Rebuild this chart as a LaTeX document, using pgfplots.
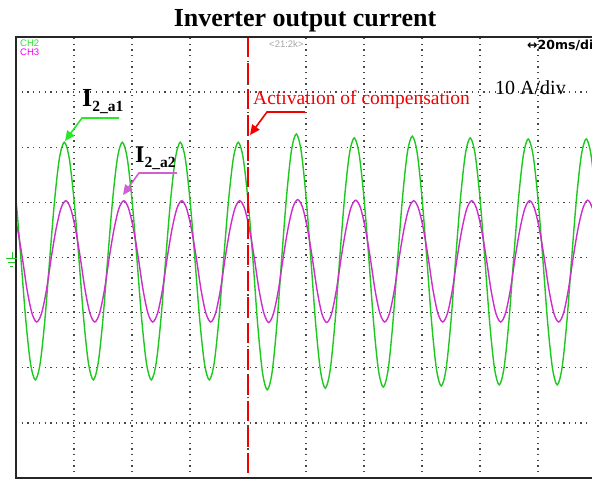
\documentclass[border=0pt]{standalone}
\usepackage{pgfplots}
\pgfplotsset{compat=1.18}
\usepackage{fontspec}
\setmainfont{Liberation Serif}
\newfontfamily\scopefont{Liberation Sans}
\newfontfamily\symfont{DejaVu Sans}
\usetikzlibrary{arrows.meta}

\definecolor{traceA}{RGB}{30,200,30}
\definecolor{traceB}{RGB}{205,45,205}
\definecolor{arrowA}{RGB}{40,230,40}
\definecolor{arrowB}{RGB}{210,95,210}
\definecolor{actred}{RGB}{240,0,0}

\begin{document}
\begin{tikzpicture}
% scope screen: 10 x 8 divisions, 12 samples per 20 ms division, y in divisions (10 A/div)
\begin{axis}[
  at={(16bp,-478bp)}, anchor=south west,
  scale only axis, width=576bp, height=441bp,
  xmin=0, xmax=119.2, ymin=-4, ymax=4,
  xtick={0,12,...,120}, ytick={-4,-3,...,4},
  xticklabels={}, yticklabels={},
  major tick length=0pt,
  grid=major,
  major grid style={draw=black!72, line width=1.3bp, dash pattern=on 1.3bp off 4.4bp},
  axis line style={draw=none},
  clip=true,
]
% I_2_a1
\addplot[traceA, line width=1.4bp, smooth, tension=0.5] coordinates {
(-1,1.81)
(0,1.05)(1,0)(2,-1.11)(3,-1.92)(4,-2.22)(5,-1.92)(6,-1.11)(7,0)(8,1.05)(9,1.81)(10,2.09)(11,1.81)
(12,1.05)(13,0)(14,-1.11)(15,-1.92)(16,-2.22)(17,-1.92)(18,-1.11)(19,0)(20,1.05)(21,1.81)(22,2.09)(23,1.81)
(24,1.05)(25,0)(26,-1.11)(27,-1.92)(28,-2.22)(29,-1.92)(30,-1.11)(31,0)(32,1.05)(33,1.81)(34,2.09)(35,1.81)
(36,1.05)(37,0)(38,-1.11)(39,-1.92)(40,-2.22)(41,-1.92)(42,-1.11)(43,0)(44,1.05)(45,1.81)(46,2.09)(47,1.81)
(48,1.05)(49,0)(50,-1.20)(51,-2.08)(52,-2.40)(53,-2.08)(54,-1.20)(55,0)(56,1.12)(57,1.94)(58,2.24)(59,1.94)
(60,1.12)(61,0)(62,-1.19)(63,-2.05)(64,-2.37)(65,-2.05)(66,-1.19)(67,0)(68,1.09)(69,1.88)(70,2.17)(71,1.88)
(72,1.09)(73,0)(74,-1.18)(75,-2.04)(76,-2.35)(77,-2.04)(78,-1.18)(79,0)(80,1.10)(81,1.91)(82,2.20)(83,1.91)
(84,1.10)(85,0)(86,-1.17)(87,-2.02)(88,-2.33)(89,-2.02)(90,-1.17)(91,0)(92,1.09)(93,1.88)(94,2.17)(95,1.88)
(96,1.09)(97,0)(98,-1.16)(99,-2.00)(100,-2.31)(101,-2.00)(102,-1.16)(103,0)(104,1.08)(105,1.86)(106,2.15)(107,1.86)
(108,1.08)(109,0)(110,-1.16)(111,-2.00)(112,-2.31)(113,-2.00)(114,-1.16)(115,0)(116,1.08)(117,1.86)(118,2.15)(119,1.86)
(120,1.08)
};
% I_2_a2
\addplot[traceB, line width=1.4bp, smooth, tension=0.5] coordinates {
(-0.7,0.89)
(0.3,0.52)(1.3,0)(2.3,-0.59)(3.3,-1.01)(4.3,-1.17)(5.3,-1.01)(6.3,-0.59)(7.3,0)(8.3,0.52)(9.3,0.89)(10.3,1.03)(11.3,0.89)
(12.3,0.52)(13.3,0)(14.3,-0.59)(15.3,-1.01)(16.3,-1.17)(17.3,-1.01)(18.3,-0.59)(19.3,0)(20.3,0.52)(21.3,0.89)(22.3,1.03)(23.3,0.89)
(24.3,0.52)(25.3,0)(26.3,-0.59)(27.3,-1.01)(28.3,-1.17)(29.3,-1.01)(30.3,-0.59)(31.3,0)(32.3,0.52)(33.3,0.89)(34.3,1.03)(35.3,0.89)
(36.3,0.52)(37.3,0)(38.3,-0.59)(39.3,-1.01)(40.3,-1.17)(41.3,-1.01)(42.3,-0.59)(43.3,0)(44.3,0.52)(45.3,0.89)(46.3,1.03)(47.3,0.89)
(48.3,0.52)(49.3,0)(50.3,-0.59)(51.3,-1.01)(52.3,-1.18)(53.3,-1.01)(54.3,-0.59)(55.3,0)(56.3,0.53)(57.3,0.91)(58.3,1.05)(59.3,0.91)
(60.3,0.53)(61.3,0)(62.3,-0.59)(63.3,-1.02)(64.3,-1.18)(65.3,-1.02)(66.3,-0.59)(67.3,0)(68.3,0.52)(69.3,0.90)(70.3,1.04)(71.3,0.90)
(72.3,0.52)(73.3,0)(74.3,-0.59)(75.3,-1.01)(76.3,-1.17)(77.3,-1.01)(78.3,-0.59)(79.3,0)(80.3,0.52)(81.3,0.89)(82.3,1.03)(83.3,0.89)
(84.3,0.52)(85.3,0)(86.3,-0.59)(87.3,-1.01)(88.3,-1.17)(89.3,-1.01)(90.3,-0.59)(91.3,0)(92.3,0.52)(93.3,0.89)(94.3,1.03)(95.3,0.89)
(96.3,0.52)(97.3,0)(98.3,-0.59)(99.3,-1.01)(100.3,-1.17)(101.3,-1.01)(102.3,-0.59)(103.3,0)(104.3,0.52)(105.3,0.89)(106.3,1.03)(107.3,0.89)
(108.3,0.52)(109.3,0)(110.3,-0.59)(111.3,-1.01)(112.3,-1.17)(113.3,-1.01)(114.3,-0.59)(115.3,0)(116.3,0.52)(117.3,0.89)(118.3,1.04)(119.3,0.89)
(120.3,0.52)
};
% instant the compensation is switched on
\addplot[actred, line width=2.4bp, dash pattern=on 20bp off 6bp] coordinates {(48,4) (48,-4)};
\end{axis}

\begin{scope}[x=1bp, y=-1bp]
% screen frame (right edge runs off the page)
\draw[line width=2.6bp, black!85, line join=miter] (600,37) -- (16,37) -- (16,478) -- (600,478);
% ground reference marker
\draw[traceA, line width=1bp] (12,252) -- (12,258) (6,258) -- (17,258) (8,262) -- (15,262) (10,266) -- (13,266);

% title
\node[anchor=base, inner sep=0] at (305,27) {\fontsize{26bp}{30bp}\selectfont\bfseries Inverter output current};

% scope readouts
\node[anchor=base west, inner sep=0, text=arrowA] at (20,47) {\scopefont\fontsize{9.5bp}{10bp}\selectfont CH2};
\node[anchor=base west, inner sep=0, text={rgb,255:red,240;green,0;blue,240}] at (20,56) {\scopefont\fontsize{9.5bp}{10bp}\selectfont CH3};
\node[anchor=base west, inner sep=0, text=black!35] at (269,48) {\scopefont\fontsize{9.5bp}{10bp}\selectfont <21:2k>};
\node[anchor=base west, inner sep=0] at (527,50) {\symfont\bfseries\fontsize{12.5bp}{13bp}\selectfont ↔20ms/div};

% annotations
\node[anchor=base west, inner sep=0] at (495,95) {\fontsize{20bp}{22bp}\selectfont 10 A/div};
\node[anchor=base west, inner sep=0, text=actred] at (253,105) {\fontsize{19.5bp}{22bp}\selectfont Activation of compensation};
\node[anchor=base west, inner sep=0] at (82,107) {\fontsize{26bp}{30bp}\selectfont\bfseries I\raisebox{-5bp}{\fontsize{15.5bp}{17bp}\selectfont 2\_a1}};
\node[anchor=base west, inner sep=0] at (135,163) {\fontsize{24bp}{28bp}\selectfont\bfseries I\raisebox{-5bp}{\fontsize{15.5bp}{17bp}\selectfont 2\_a2}};

\draw[arrowA, line width=1.6bp, -{Triangle[length=10bp,width=9bp]}] (119,118) -- (82,118) -- (65,141);
\draw[arrowB, line width=1.6bp, -{Triangle[length=10bp,width=9bp]}] (177,173) -- (139,173) -- (123,195);
\draw[actred, line width=1.6bp, -{Triangle[length=10bp,width=9bp]}] (305,112) -- (267,112) -- (250,135);

\pgfresetboundingbox
\path[use as bounding box] (0,0) rectangle (592,481);
\end{scope}
\end{tikzpicture}
\end{document}
